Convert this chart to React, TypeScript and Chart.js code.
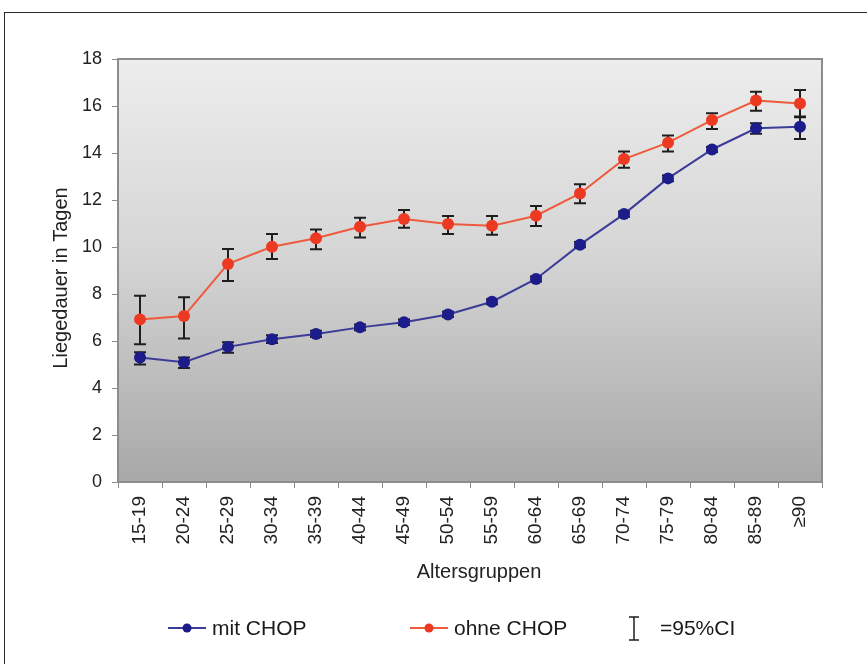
import React, { useEffect, useRef } from "react";
import { Chart, registerables } from "chart.js";

Chart.register(...registerables);

const categories = ["15-19", "20-24", "25-29", "30-34", "35-39", "40-44", "45-49", "50-54", "55-59", "60-64", "65-69", "70-74", "75-79", "80-84", "85-89", "≥90"];

const mitChop = [5.3, 5.1, 5.75, 6.07, 6.3, 6.58, 6.8, 7.13, 7.67, 8.64, 10.1, 11.4, 12.92, 14.15, 15.05, 15.12];
const mitLow = [5.0, 4.85, 5.5, 5.92, 6.17, 6.46, 6.68, 7.02, 7.56, 8.53, 9.99, 11.29, 12.8, 14.04, 14.82, 14.6];
const mitHigh = [5.52, 5.3, 5.95, 6.24, 6.44, 6.7, 6.92, 7.24, 7.78, 8.75, 10.21, 11.51, 13.04, 14.26, 15.27, 15.55];

const ohneChop = [6.92, 7.06, 9.28, 10.01, 10.37, 10.86, 11.19, 10.98, 10.9, 11.33, 12.28, 13.74, 14.44, 15.4, 16.23, 16.11];
const ohneLow = [5.86, 6.11, 8.55, 9.49, 9.9, 10.4, 10.82, 10.55, 10.52, 10.89, 11.86, 13.37, 14.06, 15.02, 15.8, 15.52];
const ohneHigh = [7.93, 7.86, 9.91, 10.55, 10.75, 11.25, 11.57, 11.32, 11.32, 11.74, 12.67, 14.06, 14.74, 15.69, 16.61, 16.68];

const yTicks = [0, 2, 4, 6, 8, 10, 12, 14, 16, 18];

const seriesNames = ["mit CHOP", "ohne CHOP"];
const ciLabel = "=95%CI";
const xTitle = "Altersgruppen";
const yTitle = "Liegedauer in Tagen";

const FONT = "'Liberation Sans', Arial, Helvetica, sans-serif";
const BLUE_LINE = "#3b3b98";
const BLUE_DOT = "#1c1c8a";
const RED_LINE = "#ef5a3c";
const RED_DOT = "#ec3a22";

export default function App() {
  const ref = useRef<HTMLCanvasElement>(null);

  useEffect(() => {
    document.body.style.margin = "0";
    const canvas = ref.current!;
    const ranges = [
      { low: mitLow, high: mitHigh },
      { low: ohneLow, high: ohneHigh },
    ];

    const decor = {
      id: "decor",
      beforeDraw(chart: any) {
        const { ctx, chartArea: a } = chart;
        ctx.save();
        ctx.fillStyle = "#ffffff";
        ctx.fillRect(0, 0, chart.width, chart.height);
        ctx.fillStyle = "#2a2a2a";
        ctx.fillRect(4, 12, chart.width - 4, 1);
        ctx.fillRect(4, 12, 1, chart.height - 12);
        const g = ctx.createLinearGradient(0, a.top, 0, a.bottom);
        g.addColorStop(0, "#ededed");
        g.addColorStop(0.45, "#d6d6d6");
        g.addColorStop(1, "#a8a8a8");
        ctx.fillStyle = g;
        ctx.fillRect(a.left, a.top, a.right - a.left, a.bottom - a.top);
        ctx.restore();
      },
      beforeDatasetsDraw(chart: any) {
        const { ctx, chartArea: a } = chart;
        const xs = chart.scales.x;
        const ys = chart.scales.y;
        ctx.save();
        ctx.strokeStyle = "#8c8c8c";
        ctx.lineWidth = 2;
        ctx.strokeRect(a.left, a.top, a.right - a.left, a.bottom - a.top);
        ctx.strokeStyle = "#1e1e1e";
        ctx.lineWidth = 2;
        ranges.forEach((r) => {
          categories.forEach((_, i) => {
            const x = xs.getPixelForValue(i);
            const y1 = ys.getPixelForValue(r.low[i]);
            const y2 = ys.getPixelForValue(r.high[i]);
            ctx.beginPath();
            ctx.moveTo(x, y1);
            ctx.lineTo(x, y2);
            ctx.moveTo(x - 6, y1);
            ctx.lineTo(x + 6, y1);
            ctx.moveTo(x - 6, y2);
            ctx.lineTo(x + 6, y2);
            ctx.stroke();
          });
        });
        ctx.restore();
      },
      afterDraw(chart: any) {
        const { ctx } = chart;
        ctx.save();
        // axis titles
        ctx.fillStyle = "#222222";
        ctx.font = `20px ${FONT}`;
        ctx.textAlign = "center";
        ctx.textBaseline = "middle";
        ctx.fillText(xTitle, 479, 572);
        ctx.save();
        ctx.translate(61, 278);
        ctx.rotate(-Math.PI / 2);
        ctx.fillText(yTitle, 0, 0);
        ctx.restore();

        // legend
        const y = 628;
        const items = [
          { x: 168, line: BLUE_LINE, dot: BLUE_DOT, text: seriesNames[0] },
          { x: 410, line: RED_LINE, dot: RED_DOT, text: seriesNames[1] },
        ];
        ctx.font = `21px ${FONT}`;
        ctx.textBaseline = "middle";
        ctx.textAlign = "left";
        items.forEach((it) => {
          ctx.strokeStyle = it.line;
          ctx.lineWidth = 2;
          ctx.beginPath();
          ctx.moveTo(it.x, y);
          ctx.lineTo(it.x + 38, y);
          ctx.stroke();
          ctx.fillStyle = it.dot;
          ctx.beginPath();
          ctx.arc(it.x + 19, y, 4.5, 0, Math.PI * 2);
          ctx.fill();
          ctx.fillStyle = "#1a1a1a";
          ctx.fillText(it.text, it.x + 44, y + 1);
        });
        // CI symbol
        ctx.strokeStyle = "#1e1e1e";
        ctx.lineWidth = 1.5;
        ctx.beginPath();
        ctx.moveTo(634, 617);
        ctx.lineTo(634, 640);
        ctx.moveTo(629, 617);
        ctx.lineTo(639, 617);
        ctx.moveTo(629, 640);
        ctx.lineTo(639, 640);
        ctx.stroke();
        ctx.fillStyle = "#1a1a1a";
        ctx.fillText(ciLabel, 660, y + 1);
        ctx.restore();
      },
    };

    const chart = new Chart(canvas, {
      type: "line",
      data: {
        labels: categories,
        datasets: [
          {
            label: seriesNames[0],
            data: mitChop,
            borderColor: BLUE_LINE,
            backgroundColor: BLUE_DOT,
            pointBackgroundColor: BLUE_DOT,
            pointBorderColor: BLUE_DOT,
            borderWidth: 2,
            pointRadius: 6,
            pointBorderWidth: 0,
            tension: 0,
          },
          {
            label: seriesNames[1],
            data: ohneChop,
            borderColor: RED_LINE,
            backgroundColor: RED_DOT,
            pointBackgroundColor: RED_DOT,
            pointBorderColor: RED_DOT,
            borderWidth: 2,
            pointRadius: 6,
            pointBorderWidth: 0,
            tension: 0,
          },
        ],
      },
      options: {
        responsive: false,
        animation: false,
        events: [],
        layout: { padding: { left: 0, top: 59, right: 45, bottom: 0 } },
        plugins: {
          legend: { display: false },
          tooltip: { enabled: false },
        },
        scales: {
          x: {
            type: "category",
            offset: true,
            afterFit(scale: any) {
              scale.height = 182;
            },
            grid: {
              offset: true,
              drawOnChartArea: false,
              tickLength: 6,
              color: "#8c8c8c",
              tickColor: "#8c8c8c",
            },
            border: { display: false },
            ticks: {
              autoSkip: false,
              minRotation: 90,
              maxRotation: 90,
              padding: 8,
              color: "#222222",
              font: { family: FONT, size: 19 },
            },
            title: { display: false },
          },
          y: {
            min: 0,
            max: 18,
            afterFit(scale: any) {
              scale.width = 118;
            },
            afterBuildTicks(scale: any) {
              scale.ticks = yTicks.map((v) => ({ value: v }));
            },
            grid: {
              drawOnChartArea: false,
              tickLength: 6,
              color: "#8c8c8c",
              tickColor: "#8c8c8c",
            },
            border: { display: false },
            ticks: {
              padding: 10,
              color: "#222222",
              font: { family: FONT, size: 18 },
            },
            title: { display: false },
          },
        },
      },
      plugins: [decor],
    } as any);

    return () => chart.destroy();
  }, []);

  return (
    <div style={{ position: "absolute", left: 0, top: 0, width: 867, height: 664 }}>
      <canvas ref={ref} width={867} height={664} style={{ display: "block" }} />
    </div>
  );
}
